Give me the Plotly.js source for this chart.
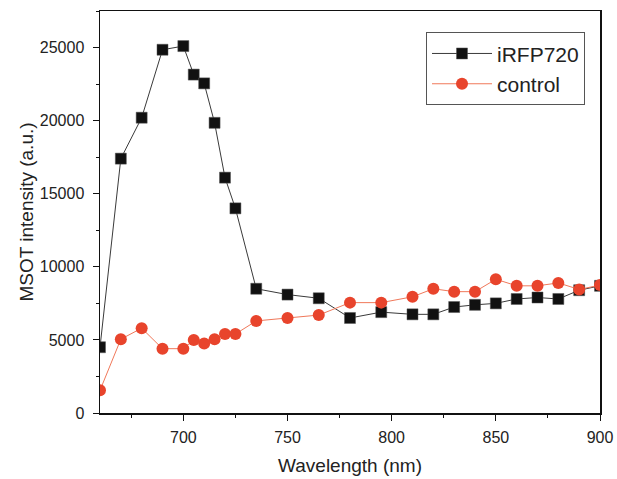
<!DOCTYPE html>
<html>
<head>
<meta charset="utf-8">
<script src="https://cdn.plot.ly/plotly-3.0.1.min.js"></script>
<style>html,body{margin:0;padding:0;background:#fff;}#chart{width:617px;height:479px;}</style>
</head>
<body>
<div id="chart"></div>
<script>
const wavelength = [660, 670, 680, 690, 700, 705, 710, 715, 720, 725, 735, 750, 765, 780, 795, 810, 820, 830, 840, 850, 860, 870, 880, 890, 900];
const irfp720 = [4500, 17400, 20200, 24850, 25100, 23150, 22550, 19850, 16100, 14000, 8500, 8100, 7850, 6500, 6900, 6750, 6750, 7250, 7400, 7500, 7800, 7900, 7800, 8400, 8700];
const control = [1550, 5050, 5800, 4400, 4400, 5000, 4750, 5050, 5400, 5400, 6300, 6500, 6700, 7550, 7550, 7950, 8500, 8300, 8300, 9150, 8700, 8700, 8900, 8450, 8750];
const seriesNames = ["iRFP720", "control"];
const xTitle = "Wavelength (nm)";
const yTitle = "MSOT intensity (a.u.)";

const font = "Liberation Sans, Arial, sans-serif";
const traces = [
  {x: wavelength, y: irfp720, name: seriesNames[0], mode: "lines+markers", type: "scatter",
   line: {color: "#3a3a3a", width: 1}, marker: {symbol: "square", size: 11, color: "#111111", line: {color: "#555", width: 0.5}}},
  {x: wavelength, y: control, name: seriesNames[1], mode: "lines+markers", type: "scatter",
   line: {color: "#f0785a", width: 1}, marker: {symbol: "circle", size: 12, color: "#e8442c", line: {width: 0}}}
];
const axisCommon = {showline: true, linecolor: "#111", linewidth: 1.5, mirror: true, ticks: "outside", ticklen: 6, tickwidth: 1, tickcolor: "#111", showgrid: false, zeroline: false,
  tickformat: "d", tickfont: {family: font, size: 16, color: "#222"}};
const layout = {
  width: 617, height: 479,
  margin: {l: 100, r: 17, t: 11, b: 66},
  paper_bgcolor: "#fff", plot_bgcolor: "#fff",
  font: {family: font, color: "#222"},
  xaxis: Object.assign({}, axisCommon, {range: [660, 900], tick0: 700, dtick: 50, ticklabelstandoff: 3,
    minor: {dtick: 25, ticklen: 3, tickcolor: "#111", ticks: "outside", showgrid: false},
    title: {text: xTitle, font: {family: font, size: 19, color: "#222"}, standoff: 14}}),
  yaxis: Object.assign({}, axisCommon, {range: [0, 27500], tick0: 0, dtick: 5000, ticklabelstandoff: 5,
    minor: {dtick: 2500, ticklen: 3, tickcolor: "#111", ticks: "outside", showgrid: false},
    title: {text: yTitle, font: {family: font, size: 19, color: "#222"}, standoff: 1}}),
  showlegend: true,
  legend: {x: 0.652, y: 0.947, xanchor: "left", yanchor: "top", bordercolor: "#555", borderwidth: 1, bgcolor: "#fff",
    font: {family: font, size: 21, color: "#222"}, itemwidth: 60, tracegroupgap: 0}
};
Plotly.newPlot("chart", traces, layout, {displayModeBar: false, staticPlot: true});
</script>
</body>
</html>
